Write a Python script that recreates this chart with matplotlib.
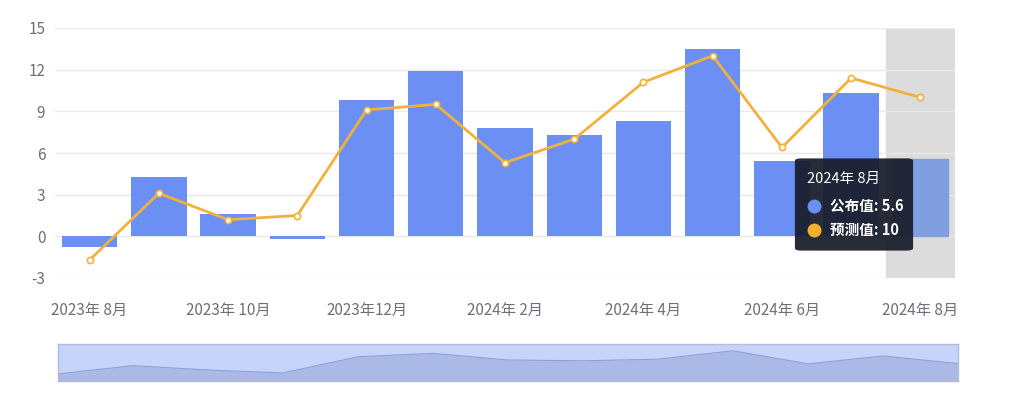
import numpy as np
import matplotlib
matplotlib.use("Agg")
import matplotlib.pyplot as plt
from matplotlib.patches import FancyBboxPatch

plt.rcParams['font.family'] = ['Noto Sans CJK SC', 'DejaVu Sans']

# data
months = ['2023年 8月', '2023年 9月', '2023年 10月', '2023年11月', '2023年12月', '2024年 1月',
          '2024年 2月', '2024年 3月', '2024年 4月', '2024年 5月', '2024年 6月', '2024年 7月', '2024年 8月']
actual = [-0.8, 4.3, 1.6, -0.2, 9.8, 11.9, 7.8, 7.3, 8.3, 13.5, 5.4, 10.3, 5.6]
forecast = [-1.7, 3.1, 1.2, 1.5, 9.1, 9.5, 5.3, 7.0, 11.1, 13.0, 6.4, 11.4, 10.0]
yticks = [-3, 0, 3, 6, 9, 12, 15]

blue = '#6b8ff2'
orange = '#f0b23c'
grey_txt = '#6e7079'

W, H = 1022, 398
fig = plt.figure(figsize=(W / 100, H / 100), dpi=100)

# main chart
ax = fig.add_axes([55 / W, 1 - 278 / H, (955 - 55) / W, 250 / H])
x = np.arange(len(months))
ax.axvspan(len(months) - 1.5, len(months) - 0.5, color='#dcdcdc', zorder=0)
bars = ax.bar(x, actual, width=0.8, color=blue, zorder=2)
bars[-1].set_color('#7f9fe0')
ax.plot(x, forecast, color=orange, lw=2, zorder=3,
        marker='o', ms=4.5, mfc='white', mec=orange, mew=1.2)

ax.set_xlim(-0.5, len(months) - 0.5)
ax.set_ylim(-3, 15)
ax.set_yticks(yticks)
ax.set_yticklabels([str(v) for v in yticks])
ax.grid(axis='y', color='#e9e9e9', lw=1, zorder=1)
ax.set_axisbelow(True)
ax.set_xticks(x[::2])
ax.set_xticklabels(months[::2])
ax.tick_params(axis='both', length=0, labelsize=11, labelcolor=grey_txt)
ax.tick_params(axis='x', pad=17)
ax.tick_params(axis='y', pad=7)
for s in ax.spines.values():
    s.set_visible(False)

# tooltip
tip = FancyBboxPatch((799 / W, 1 - 249 / H), 110 / W, 89 / H,
                     boxstyle='round,pad=0.004,rounding_size=0.006',
                     transform=fig.transFigure, facecolor='#1a1e2c', alpha=0.94,
                     edgecolor='none', zorder=10)
fig.patches.append(tip)
fig.text(807 / W, 1 - 179 / H, '2024年 8月', color='white', fontsize=10.5,
         va='center', ha='left', zorder=11)
fig.text(830 / W, 1 - 206 / H, '公布值: 5.6', color='white', fontsize=10.5,
         fontweight='bold', va='center', ha='left', zorder=11)
fig.text(830 / W, 1 - 230 / H, '预测值: 10', color='white', fontsize=10.5,
         fontweight='bold', va='center', ha='left', zorder=11)
fig.lines.append(plt.Line2D([814 / W], [1 - 206 / H], transform=fig.transFigure,
                            marker='o', ms=9, color=blue, lw=0, zorder=11))
fig.lines.append(plt.Line2D([814 / W], [1 - 230 / H], transform=fig.transFigure,
                            marker='o', ms=9, color='#f5b02e', lw=0, zorder=11))

# data zoom slider
sx = fig.add_axes([58 / W, 1 - 381 / H, (958 - 58) / W, 37 / H])
sx.set_facecolor('#c6d3fb')
sx.fill_between(x, actual, -6, color='#aab9e6', lw=0)
sx.plot(x, actual, color='#8e9fd6', lw=0.8)
sx.set_xlim(0, len(months) - 1)
sx.set_ylim(-5.2, 17.7)
sx.set_xticks([])
sx.set_yticks([])
for s in sx.spines.values():
    s.set_color('#b4bcd6')
    s.set_linewidth(1)

fig.savefig('out.png', dpi=100)
